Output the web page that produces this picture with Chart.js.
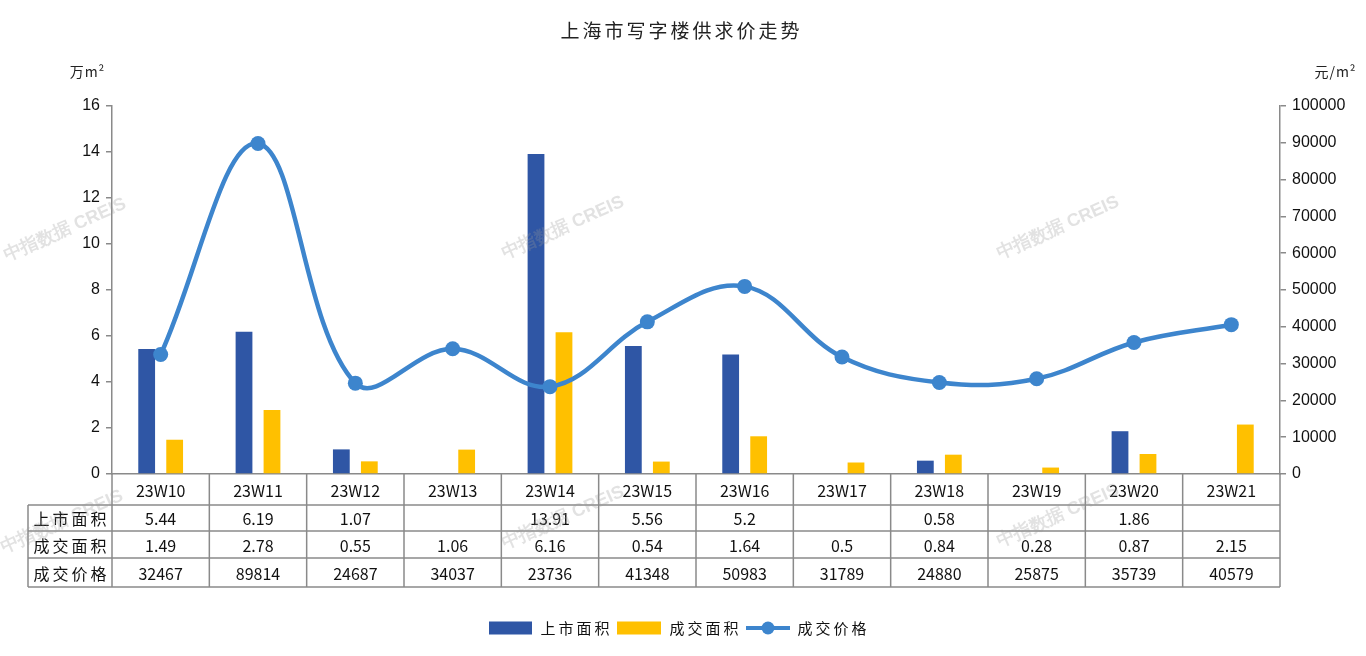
<!DOCTYPE html>
<html><head><meta charset="utf-8">
<script src="https://cdn.jsdelivr.net/npm/chart.js@4.4.0/dist/chart.umd.min.js"></script>
<style>html,body{margin:0;padding:0;background:#fff;}#wrap{width:1366px;height:656px;position:relative;}</style>
</head><body><div id="wrap"><canvas id="c" width="1366" height="656"></canvas></div>
<script>
const titleText = '上海市写字楼供求价走势';
const categories = ['23W10','23W11','23W12','23W13','23W14','23W15','23W16','23W17','23W18','23W19','23W20','23W21'];
const supplyArea = [5.44, 6.19, 1.07, null, 13.91, 5.56, 5.2, null, 0.58, null, 1.86, null];
const dealArea = [1.49, 2.78, 0.55, 1.06, 6.16, 0.54, 1.64, 0.5, 0.84, 0.28, 0.87, 2.15];
const dealPrice = [32467, 89814, 24687, 34037, 23736, 41348, 50983, 31789, 24880, 25875, 35739, 40579];
const seriesNames = ['上市面积','成交面积','成交价格'];
const leftUnit = '万m²';
const rightUnit = '元/m²';
const watermark = '中指数据 CREIS';

const BLUE = '#2F56A5', YELLOW = '#FFC000', LINE = '#3D85CD', GRAY = '#8a8a8a';
const CJK = '"Noto Sans CJK SC", "Noto Sans", sans-serif';
const SANS = '"Liberation Sans", Arial, sans-serif';

function spacedText(ctx, text, cx, cy, spacing) {
  const chars = Array.from(text);
  const widths = chars.map(c => ctx.measureText(c).width);
  const total = widths.reduce((a,b)=>a+b,0) + spacing*(chars.length-1);
  let x = cx - total/2;
  ctx.textAlign = 'left';
  chars.forEach((c,i)=>{ ctx.fillText(c, x, cy); x += widths[i] + spacing; });
  return total;
}

const extras = {
  id: 'extras',
  afterDraw(chart) {
    const ctx = chart.ctx;
    const xs = chart.scales.x;
    const area = chart.chartArea;
    ctx.save();
    ctx.fillStyle = '#222';
    ctx.font = '19px ' + CJK;
    ctx.textBaseline = 'middle';
    spacedText(ctx, titleText, 680, 31, 3);
    ctx.font = '14px ' + CJK;
    ctx.fillStyle = '#222';
    spacedText(ctx, leftUnit, 87, 72, 1);
    spacedText(ctx, rightUnit, 1335, 72, 1);

    const n = categories.length;
    const step = (xs.getPixelForValue(1) - xs.getPixelForValue(0));
    const left = area.left, right = area.right;
    const rows = [area.bottom, 505, 531, 558, 587];
    const tableLeft = 28;
    ctx.strokeStyle = GRAY;
    ctx.lineWidth = 1.5;
    ctx.beginPath();
    for (let r = 1; r < rows.length; r++) {
      ctx.moveTo(tableLeft, rows[r]); ctx.lineTo(right, rows[r]);
    }
    ctx.moveTo(tableLeft, rows[1]); ctx.lineTo(tableLeft, rows[4]);
    for (let i = 0; i <= n; i++) {
      const x = xs.getPixelForValue(i) - step/2;
      ctx.moveTo(x, rows[0]); ctx.lineTo(x, rows[4]);
    }
    ctx.stroke();

    ctx.fillStyle = '#111';
    ctx.textBaseline = 'middle';
    const rowData = [supplyArea, dealArea, dealPrice];
    ctx.font = '16px ' + CJK;
    for (let i = 0; i < n; i++) {
      const cx = xs.getPixelForValue(i);
      ctx.textAlign = 'center';
      ctx.font = '16px ' + CJK;
      ctx.fillText(categories[i], cx, (rows[0]+rows[1])/2 + 1);
      for (let r = 0; r < 3; r++) {
        const v = rowData[r][i];
        if (v === null || v === undefined) continue;
        ctx.textAlign = 'center';
        ctx.fillText(String(v), cx, (rows[r+1]+rows[r+2])/2 + 1);
      }
    }
    ctx.font = '16px ' + CJK;
    for (let r = 0; r < 3; r++) {
      spacedText(ctx, seriesNames[r], (tableLeft + left)/2, (rows[r+1]+rows[r+2])/2 + 1, 3);
    }

    const ly = 628;
    ctx.font = '15px ' + CJK;
    ctx.fillStyle = BLUE; ctx.fillRect(489, ly-6.5, 43, 13);
    ctx.fillStyle = '#111'; spacedText(ctx, seriesNames[0], 575, ly, 3);
    ctx.fillStyle = YELLOW; ctx.fillRect(617, ly-6.5, 44, 13);
    ctx.fillStyle = '#111'; spacedText(ctx, seriesNames[1], 704, ly, 3);
    ctx.strokeStyle = LINE; ctx.lineWidth = 4;
    ctx.beginPath(); ctx.moveTo(746, ly); ctx.lineTo(790, ly); ctx.stroke();
    ctx.fillStyle = LINE; ctx.beginPath(); ctx.arc(768, ly, 6.5, 0, Math.PI*2); ctx.fill();
    ctx.fillStyle = '#111'; spacedText(ctx, seriesNames[2], 832, ly, 3);

    ctx.font = 'bold 18px ' + SANS;
    ctx.fillStyle = 'rgba(150,150,150,0.28)';
    const wm = [[65,230],[563,228],[1058,228],[62,522],[563,518],[1058,516]];
    wm.forEach(([x,y])=>{
      ctx.save(); ctx.translate(x,y); ctx.rotate(-0.42);
      ctx.textAlign='center'; ctx.textBaseline='middle';
      ctx.fillText(watermark, 0, 0);
      ctx.restore();
    });
    ctx.restore();
  }
};

new Chart(document.getElementById('c'), {
  type: 'bar',
  data: {
    labels: categories,
    datasets: [
      { type:'line', label: seriesNames[2], data: dealPrice, yAxisID:'y1', order:0,
        borderColor: LINE, backgroundColor: LINE, borderWidth: 4.5, tension: 0.38,
        pointRadius: 7.5, pointHoverRadius: 7.5, pointBackgroundColor: LINE, pointBorderWidth: 0, fill:false },
      { label: seriesNames[0], data: supplyArea, backgroundColor: BLUE, yAxisID:'y', order:1,
        barPercentage: 0.6, categoryPercentage: 0.575 },
      { label: seriesNames[1], data: dealArea, backgroundColor: YELLOW, yAxisID:'y', order:2,
        barPercentage: 0.6, categoryPercentage: 0.575 }
    ]
  },
  options: {
    responsive: false,
    animation: false,
    layout: { padding: { top: 106, left: 0, right: 0, bottom: 0 } },
    plugins: { legend: { display:false }, title: { display:false }, tooltip: { enabled:false } },
    scales: {
      x: {
        ticks: { display:false },
        grid: { display:false },
        border: { display:true, color: GRAY, width: 1.5 },
        afterFit(s) { s.height = 182; }
      },
      y: {
        position:'left', min:0, max:16,
        ticks: { stepSize:2, color:'#111', font:{ family: SANS, size:16 }, padding:6 },
        grid: { drawOnChartArea:false, color: GRAY, tickLength:6, lineWidth:1.5 },
        border: { color: GRAY, width:1.5 },
        afterFit(s) { s.width = 112; }
      },
      y1: {
        position:'right', min:0, max:100000,
        ticks: { stepSize:10000, color:'#111', font:{ family: SANS, size:16 }, padding:6,
                 callback: (v) => String(v) },
        grid: { drawOnChartArea:false, color: GRAY, tickLength:6, lineWidth:1.5 },
        border: { color: GRAY, width:1.5 },
        afterFit(s) { s.width = 86; }
      }
    }
  },
  plugins: [extras]
});
</script>
</body></html>
